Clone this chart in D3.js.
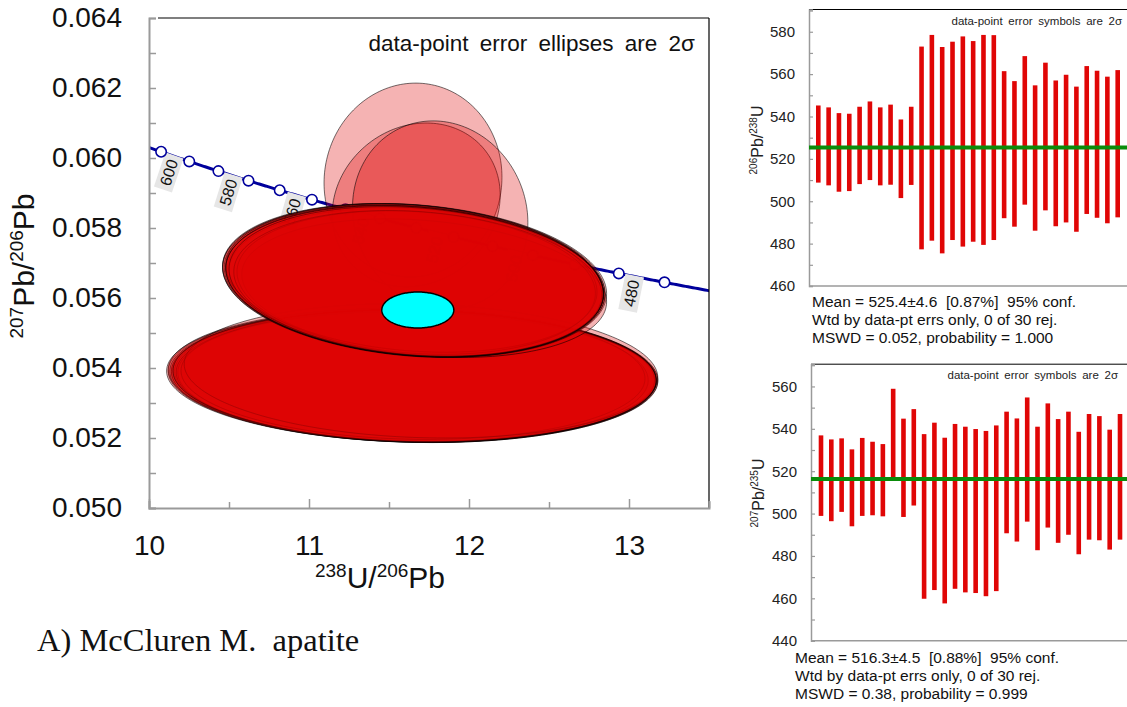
<!DOCTYPE html>
<html>
<head>
<meta charset="utf-8">
<title>McCluren M. apatite – Tera-Wasserburg plot and weighted-mean ages</title>
<script src="https://cdn.jsdelivr.net/npm/d3@7/dist/d3.min.js"></script>
<style>
  html, body { margin: 0; padding: 0; background: #fff; }
  svg { display: block; }
  text { font-family: "Liberation Sans", Arial, Helvetica, sans-serif; fill: #111; }
</style>
</head>
<body>
<svg id="fig" width="1127" height="707"></svg>
<script>
// ---- Spot analyses (Tera-Wasserburg): 238U/206Pb, 207Pb/206Pb, 2σ half-widths, error correlation ----
const spotU238Pb206 = [
  11.65, 11.67, 11.82,
  11.65, 11.66, 11.65, 11.66, 11.64, 11.65, 11.66, 11.65, 11.67, 11.70, 11.65, 11.66, 11.64,
  11.66, 11.67, 11.65, 11.67, 11.66, 11.72, 11.66, 11.64, 11.67, 11.66, 11.68, 11.65, 11.67, 11.66
];
const spotPb207Pb206 = [
  0.05937, 0.05866, 0.05837,
  0.05378, 0.05376, 0.05379, 0.05377, 0.05380, 0.05376, 0.05378, 0.05381, 0.05375, 0.05392, 0.05377, 0.05379, 0.05378,
  0.05650, 0.05646, 0.05652, 0.05645, 0.05648, 0.05628, 0.05650, 0.05655, 0.05644, 0.05649, 0.05642, 0.05651, 0.05647, 0.05648
];
const err2sU238Pb206 = [
  0.556, 0.525, 0.548,
  1.53, 1.52, 1.51, 1.50, 1.52, 1.47, 1.51, 1.45, 1.50, 1.48, 1.52, 1.51, 1.53,
  1.20, 1.18, 1.19, 1.17, 1.18, 1.14, 1.19, 1.16, 1.12, 1.18, 1.15, 1.19, 1.17, 1.18
];
const err2sPb207Pb206 = [
  0.00277, 0.00234, 0.00269,
  0.00190, 0.00189, 0.00188, 0.00189, 0.00190, 0.00186, 0.00189, 0.00185, 0.00188, 0.00192, 0.00189, 0.00190, 0.00190,
  0.00220, 0.00214, 0.00218, 0.00212, 0.00216, 0.00198, 0.00219, 0.00210, 0.00205, 0.00217, 0.00208, 0.00218, 0.00214, 0.00216
];
const errCorr = [
  0.03, 0.12, -0.08,
  -0.07, -0.07, -0.06, -0.07, -0.08, -0.06, -0.07, -0.06, -0.07, -0.10, -0.07, -0.07, -0.07,
  -0.17, -0.17, -0.18, -0.16, -0.17, -0.20, -0.17, -0.18, -0.15, -0.17, -0.16, -0.17, -0.17, -0.17
];

// Concordia-age ellipse: [238U/206Pb, 207Pb/206Pb, 2σ x, 2σ y, rho]
const concordiaMean = [11.68, 0.055657, 0.225, 0.000514, 0.0];

// Concordia age markers (Ma) and the ones that carry a label
const concordiaTickAges = [610, 600, 590, 580, 570, 560, 550, 540, 530, 520, 510, 500, 490, 480, 470];
const concordiaLabelAges = [600, 580, 560, 540, 520, 500, 480];

// Axis ranges and tick labels of the concordia panel
const u238Domain = [10, 13.5];
const pb207Domain = [0.050, 0.064];
const u238Ticks = [10, 11, 12, 13];
const pb207Ticks = [0.050, 0.052, 0.054, 0.056, 0.058, 0.060, 0.062, 0.064];

// ---- 206Pb/238U spot ages (Ma), 2σ error bar limits ----
const age206238Hi = [
  545.2, 544.3, 541.6, 541.3, 544.6, 547.1, 544.3, 545.6, 538.6, 544.6,
  573.0, 578.5, 572.8, 575.3, 577.8, 575.6, 578.5, 578.4,
  561.4, 556.7, 568.5, 554.7, 565.4, 557.0, 559.7, 554.1, 563.8, 561.6, 558.8, 561.9
];
const age206238Lo = [
  508.8, 507.5, 504.5, 504.8, 508.1, 510.0, 507.5, 507.8, 501.5, 507.7,
  477.3, 481.4, 475.4, 481.7, 478.6, 480.9, 479.4, 481.7,
  492.0, 488.0, 498.4, 486.1, 495.7, 488.2, 490.0, 485.6, 494.0, 492.2, 489.6, 492.4
];
const mean206238 = 525.4;
const ageTicks206238 = [460, 480, 500, 520, 540, 560, 580];
const stats206238 = [
  "Mean = 525.4±4.6  [0.87%]  95% conf.",
  "Wtd by data-pt errs only, 0 of 30 rej.",
  "MSWD = 0.052, probability = 1.000"
];

// ---- 207Pb/235U spot ages (Ma), 2σ error bar limits ----
const age207235Hi = [
  536.9, 535.0, 535.5, 530.3, 535.7, 533.9, 532.8, 558.9, 544.8, 549.3,
  537.5, 542.9, 535.8, 542.3, 541.0, 539.9, 539.0, 541.6,
  548.1, 544.9, 554.8, 541.0, 552.0, 544.6, 548.1, 538.6, 547.0, 546.0, 539.6, 547.0
];
const age207235Lo = [
  498.9, 496.4, 500.8, 494.0, 498.9, 499.2, 498.7, 515.7, 498.4, 503.8,
  459.8, 463.9, 457.6, 464.5, 462.8, 462.5, 461.0, 463.4,
  490.7, 486.8, 496.2, 482.7, 493.4, 486.2, 490.0, 480.8, 487.7, 487.4, 483.0, 487.7
];
const mean207235 = 516.3;
const ageTicks207235 = [440, 460, 480, 500, 520, 540, 560];
const stats207235 = [
  "Mean = 516.3±4.5  [0.88%]  95% conf.",
  "Wtd by data-pt errs only, 0 of 30 rej.",
  "MSWD = 0.38, probability = 0.999"
];

// ======================================================================
const svg = d3.select("#fig");
const SANS = '"Liberation Sans", Arial, Helvetica, sans-serif';
const SERIF = '"Liberation Serif", "Times New Roman", Times, serif';
const AXIS_GREY = "#9a9a9a";
const ELLIPSE_RED = "#dd0404";
const BAR_RED = "#e00606";
const LINE_GREEN = "#0a8c0a";
const NAVY = "#00009c";

// Rich text helper: parts = [[text, isSuperscript], ...]
function richText(sel, parts, big, small, rise) {
  let up = false;
  parts.forEach(([s, sup]) => {
    const t = sel.append("tspan").text(s).attr("font-size", sup ? small : big);
    if (sup && !up) { t.attr("dy", -rise); up = true; }
    else if (!sup && up) { t.attr("dy", rise); up = false; }
  });
  return sel;
}

// ---------------- Concordia panel ----------------
const x = d3.scaleLinear().domain(u238Domain).range([149, 709]);
const y = d3.scaleLinear().domain(pb207Domain).range([508, 18]);
const main = svg.append("g");

main.append("clipPath").attr("id", "plotClip")
  .append("rect").attr("x", 149).attr("y", 18).attr("width", 560).attr("height", 490);
const plot = main.append("g").attr("clip-path", "url(#plotClip)");

// Tera-Wasserburg concordia from the uranium decay constants
const L238 = 1.55125e-10, L235 = 9.8485e-10, U_RATIO = 137.88;
const twX = t => 1 / (Math.exp(L238 * t * 1e6) - 1);
const twY = t => (Math.exp(L235 * t * 1e6) - 1) / (Math.exp(L238 * t * 1e6) - 1) / U_RATIO;
const ageAtX = v => Math.log(1 + 1 / v) / (L238 * 1e6);
const tYoung = ageAtX(u238Domain[1]), tOld = ageAtX(u238Domain[0]);
const curveAges = d3.range(Math.floor(tYoung) - 1, Math.ceil(tOld) + 2, 0.5);
plot.append("path")
  .attr("d", d3.line().x(t => x(twX(t))).y(t => y(twY(t)))(curveAges))
  .attr("fill", "none").attr("stroke", NAVY).attr("stroke-width", 3);

// Age labels, rotated normal to the curve, sitting below it
concordiaLabelAges.forEach(a => {
  const px = x(twX(a)), py = y(twY(a));
  const qx = x(twX(a - 1)), qy = y(twY(a - 1));
  const ang = Math.atan2(qy - py, qx - px);
  const tx = Math.cos(ang), ty = Math.sin(ang);
  const nx = -ty, ny = tx;
  const side = (px > 580) ? 1 : -1;
  const cx = px + side * 16 * tx + 17 * nx;
  const cy = py + side * 16 * ty + 17 * ny;
  const g = plot.append("g")
    .attr("transform", `translate(${cx},${cy}) rotate(${ang * 180 / Math.PI - 90})`);
  g.append("rect").attr("x", -18).attr("y", -9.5).attr("width", 36).attr("height", 19)
    .attr("fill", "#e6e6e6");
  g.append("text").attr("text-anchor", "middle").attr("dy", "0.36em")
    .attr("font-size", 16).text(a);
});

plot.selectAll("circle.ctick").data(concordiaTickAges).join("circle")
  .attr("class", "ctick")
  .attr("cx", a => x(twX(a))).attr("cy", a => y(twY(a))).attr("r", 5.2)
  .attr("fill", "#fff").attr("stroke", NAVY).attr("stroke-width", 1.6);

// Error ellipses
function ellipsePath(cx, cy, ex, ey, r) {
  const k = Math.sqrt(1 - r * r);
  const pts = d3.range(0, 360, 2).map(d => {
    const t = d * Math.PI / 180;
    return [x(cx + ex * Math.cos(t)), y(cy + ey * (r * Math.cos(t) + k * Math.sin(t)))];
  });
  return d3.line().curve(d3.curveLinearClosed)(pts);
}
plot.selectAll("path.spot").data(d3.range(spotU238Pb206.length)).join("path")
  .attr("class", "spot")
  .attr("d", i => ellipsePath(spotU238Pb206[i], spotPb207Pb206[i], err2sU238Pb206[i], err2sPb207Pb206[i], errCorr[i]))
  .attr("fill", ELLIPSE_RED).attr("fill-opacity", 0.3)
  .attr("stroke", "#000").attr("stroke-opacity", 0.55).attr("stroke-width", 1);

plot.append("path")
  .attr("d", ellipsePath(...concordiaMean))
  .attr("fill", "#00ffff").attr("stroke", "#000").attr("stroke-width", 1.5);

// Frame and axes
main.append("line").attr("x1", 158).attr("x2", 709).attr("y1", 18).attr("y2", 18)
  .attr("stroke", "#000").attr("stroke-width", 1.2);
main.append("line").attr("x1", 709).attr("x2", 709).attr("y1", 18).attr("y2", 508)
  .attr("stroke", "#000").attr("stroke-width", 1.2);

const yMinor = d3.range(0.050, 0.0645, 0.001);
const gy = main.append("g").attr("transform", "translate(149,0)")
  .call(d3.axisLeft(y).tickValues(yMinor).tickSize(-7).tickPadding(27)
    .tickFormat(v => pb207Ticks.some(t => Math.abs(t - v) < 1e-7) ? d3.format(".3f")(v) : ""));
const xMinor = d3.range(10, 13.51, 0.5);
const gx = main.append("g").attr("transform", "translate(0,508)")
  .call(d3.axisBottom(x).tickValues(xMinor).tickSize(-7).tickPadding(27)
    .tickFormat(v => u238Ticks.includes(v) ? d3.format("d")(v) : ""));
gx.selectAll(".tick line").attr("y2", v => u238Ticks.includes(v) ? -9 : -6);
[gx, gy].forEach(g => {
  g.select(".domain").attr("stroke", AXIS_GREY).attr("stroke-width", 2);
  g.selectAll(".tick line").attr("stroke", AXIS_GREY).attr("stroke-width", 1.5);
  g.selectAll(".tick text").attr("font-size", 28).style("fill", "#111").style("font-family", SANS);
});

richText(main.append("text").attr("text-anchor", "middle")
  .attr("transform", "translate(34,266) rotate(-90)"),
  [["207", true], ["Pb/", false], ["206", true], ["Pb", false]], 30, 19, 11);
richText(main.append("text").attr("text-anchor", "middle").attr("x", 380).attr("y", 588),
  [["238", true], ["U/", false], ["206", true], ["Pb", false]], 30, 19, 11);

main.append("text").attr("x", 695).attr("y", 51).attr("text-anchor", "end")
  .attr("font-size", 22.5).attr("word-spacing", 5).text("data-point error ellipses are 2σ");

main.append("text").attr("x", 37).attr("y", 651)
  .style("white-space", "pre").style("font-family", SERIF)
  .attr("font-size", 32.5).text("A) McCluren M.  apatite");

// ---------------- Weighted-mean age panels ----------------
function agePanel(o) {
  const g = svg.append("g");
  const ys = d3.scaleLinear().domain(o.domain).range([o.bottom, o.top]);
  const xs = d3.scaleLinear().domain([1, o.hi.length]).range(o.barRange);

  g.append("line").attr("x1", o.left).attr("x2", 1127).attr("y1", o.top).attr("y2", o.top)
    .attr("stroke", "#000").attr("stroke-width", 1);

  const minor = d3.range(o.domain[0], o.domain[1], 10);
  const ax = g.append("g").attr("transform", `translate(${o.left},0)`)
    .call(d3.axisLeft(ys).tickValues(minor).tickSize(-4).tickPadding(14)
      .tickFormat(v => o.ticks.includes(v) ? d3.format("d")(v) : ""));
  ax.select(".domain").attr("stroke", AXIS_GREY).attr("stroke-width", 1.5);
  ax.selectAll(".tick line").attr("stroke", AXIS_GREY).attr("stroke-width", 1.2);
  ax.selectAll(".tick text").attr("font-size", 15).style("fill", "#222").style("font-family", SANS);
  g.append("line").attr("x1", o.left).attr("x2", 1127).attr("y1", o.bottom).attr("y2", o.bottom)
    .attr("stroke", AXIS_GREY).attr("stroke-width", 1.5);

  g.selectAll("rect.bar").data(d3.range(o.hi.length)).join("rect")
    .attr("class", "bar")
    .attr("x", i => xs(i + 1) - 2.3).attr("width", 4.6)
    .attr("y", i => ys(o.hi[i])).attr("height", i => ys(o.lo[i]) - ys(o.hi[i]))
    .attr("fill", BAR_RED);

  g.append("line").attr("x1", o.left).attr("x2", 1127)
    .attr("y1", ys(o.mean)).attr("y2", ys(o.mean))
    .attr("stroke", LINE_GREEN).attr("stroke-width", 4);

  g.append("text").attr("x", o.noteRight).attr("y", o.top + 15).attr("text-anchor", "end")
    .attr("font-size", 11.5).attr("word-spacing", 2.5).style("fill", "#222")
    .text("data-point error symbols are 2σ");

  richText(g.append("text").attr("text-anchor", "middle").style("fill", "#222")
    .attr("transform", `translate(${o.titleX},${o.titleY}) rotate(-90)`),
    o.title, 16, 10, 6);

  o.stats.forEach((s, k) => {
    g.append("text").attr("x", o.statsX).attr("y", o.statsY + k * 18)
      .style("white-space", "pre").attr("font-size", 15.5).text(s);
  });
}

agePanel({
  left: 809, top: 9.5, bottom: 286, domain: [460, 590.5], ticks: ageTicks206238,
  barRange: [818.3, 1117.7], hi: age206238Hi, lo: age206238Lo, mean: mean206238,
  noteRight: 1122, titleX: 763, titleY: 140,
  title: [["206", true], ["Pb/", false], ["238", true], ["U", false]],
  stats: stats206238, statsX: 812, statsY: 307
});
agePanel({
  left: 811, top: 364.2, bottom: 640.7, domain: [440, 570.5], ticks: ageTicks207235,
  barRange: [821, 1120], hi: age207235Hi, lo: age207235Lo, mean: mean207235,
  noteRight: 1118, titleX: 764, titleY: 493,
  title: [["207", true], ["Pb/", false], ["235", true], ["U", false]],
  stats: stats207235, statsX: 795, statsY: 663
});
</script>
</body>
</html>
